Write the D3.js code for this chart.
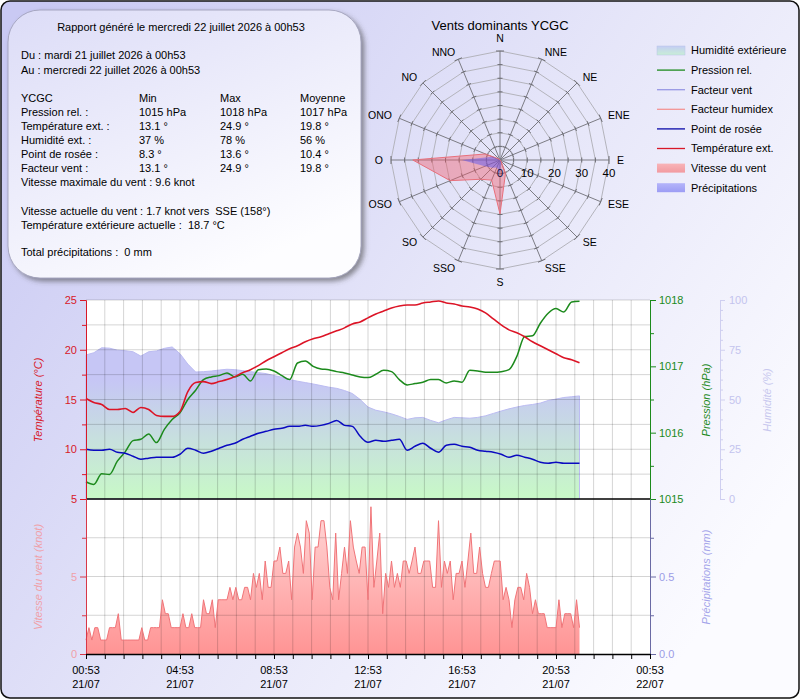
<!DOCTYPE html>
<html>
<head>
<meta charset="utf-8">
<script src="https://cdn.jsdelivr.net/npm/d3@7"></script>
<style>
  body { margin: 0; background: #fff; }
  svg { display: block; font-family: "Liberation Sans", Arial, sans-serif; }
  text { white-space: pre; }
</style>
</head>
<body>
<svg id="chart" width="800" height="700"></svg>
<script>
// ---- data ----
const t0 = new Date(2026, 6, 21, 0, 53)
const t1 = new Date(2026, 6, 22, 0, 53)
const stepMin = 20      // temp / dew / pressure / humidity
const windStepMin = 7.5 // wind speed

const tempC = [15.1,14.7,14.5,14.0,14.0,14.1,13.7,14.2,14.0,13.4,13.3,13.3,13.8,15.8,16.7,16.8,
  16.6,16.8,17.0,17.3,17.7,18.0,18.4,18.9,19.3,19.7,20.1,20.4,20.8,21.1,21.3,21.6,
  21.9,22.2,22.6,22.8,23.2,23.6,23.9,24.2,24.4,24.5,24.5,24.7,24.8,24.9,24.7,24.6,
  24.4,24.3,24.1,23.7,23.1,22.5,22.0,21.7,21.3,20.8,20.4,20.0,19.6,19.2,19.0,18.7]

const dewPoint = [10.0,9.9,9.9,10.0,9.7,9.6,9.3,9.0,9.1,9.2,9.2,9.2,9.5,10.1,9.9,9.6,
  9.8,10.1,10.4,10.6,11.0,11.3,11.6,11.8,12.0,12.1,12.3,12.3,12.4,12.3,12.4,12.6,
  12.9,12.4,12.3,11.3,10.7,10.9,10.8,10.9,11.0,9.9,10.3,10.6,10.1,9.7,10.4,10.5,
  10.3,10.2,9.9,9.8,9.7,9.5,9.2,9.4,9.2,9.0,8.7,8.6,8.7,8.6,8.6,8.6]

const pressure = [1015.26,1015.22,1015.38,1015.37,1015.57,1015.71,1015.88,1015.90,1015.98,1015.85,1016.05,1016.20,1016.30,1016.50,1016.64,1016.80,
  1016.84,1016.86,1016.90,1016.84,1016.88,1016.78,1016.95,1016.96,1016.93,1016.86,1016.80,1017.05,1017.08,1017.00,1016.96,1016.95,
  1016.92,1016.90,1016.87,1016.84,1016.83,1016.88,1016.94,1016.92,1016.80,1016.72,1016.74,1016.76,1016.80,1016.80,1016.75,1016.78,
  1016.76,1016.94,1016.93,1016.91,1016.91,1016.92,1016.95,1017.15,1017.45,1017.46,1017.65,1017.80,1017.87,1017.82,1017.97,1017.98]

const humidity = [72.4,73.5,76.0,75.8,74.8,74.5,74.0,71.8,74.0,74.4,75.7,76.4,73.0,67.8,63.8,64.0,
  64.3,64.8,65.2,65.0,64.5,64.0,63.5,63.0,62.0,61.2,60.0,59.2,58.5,57.8,57.0,56.2,
  55.6,54.5,53.0,50.0,46.2,44.6,43.8,42.8,41.5,40.0,40.8,41.0,39.5,38.3,39.8,41.0,
  40.8,40.6,41.0,41.8,43.0,44.2,45.3,46.2,47.0,47.5,48.2,49.5,50.2,51.0,51.4,51.8]

const windKnot = [0.9,1.7,0.9,1.7,1.7,0.9,0.9,0.9,1.7,1.7,1.7,2.6,0.9,0.9,0.9,0.9,
  0.9,0.9,0.9,1.7,0.9,0.9,1.7,1.7,1.7,1.7,3.5,2.6,2.6,1.7,1.7,1.7,
  1.7,2.6,1.7,1.7,2.6,1.7,1.7,1.7,3.5,2.6,2.6,3.5,1.7,3.5,3.5,3.5,
  3.5,4.3,3.5,4.3,3.5,3.5,4.3,4.3,3.5,5.2,4.3,5.2,3.5,6.0,4.3,4.3,
  6.0,6.0,6.9,5.2,5.2,6.0,3.5,6.9,7.8,6.9,5.2,8.6,7.8,3.5,6.9,6.9,
  8.6,8.6,6.9,4.3,3.5,7.8,3.5,5.2,6.9,5.2,8.6,6.9,6.0,5.2,6.9,6.9,
  3.5,9.5,4.3,6.0,7.8,2.6,5.2,4.3,6.0,4.3,5.2,4.3,6.0,6.0,5.2,6.0,
  6.9,5.2,5.2,6.0,6.0,6.0,4.3,4.3,8.6,4.3,6.0,5.2,6.0,3.5,5.2,5.2,
  6.0,4.3,6.0,7.8,5.2,5.2,6.9,5.2,4.3,4.3,5.2,6.0,6.0,6.0,3.5,4.3,
  3.5,1.7,3.5,4.3,4.3,3.5,5.2,4.3,2.6,3.5,2.6,2.6,2.6,1.7,1.7,1.7,
  1.7,3.5,1.7,2.6,2.6,2.6,1.7,3.5,1.7]

const roseDirs = ['N','NNE','NE','ENE','E','ESE','SE','SSE','S','SSO','SO','OSO','O','ONO','NO','NNO']
const roseWind = [0,0,0,0,0,0,0.5,5.3,19.8,8,10,19.8,32,5.8,0.5,0]
const roseRain = [0,0,0,0,0,0,0,1,5,3,4,6,14,3,0,0]
const roseTicks = [0,10,20,30,40]

const legendNames = ['Humidité extérieure','Pression rel.','Facteur vent','Facteur humidex',
  'Point de rosée','Température ext.','Vitesse du vent','Précipitations']

const reportTitle = 'Rapport généré le mercredi 22 juillet 2026 à 00h53'
const periodLines = ['Du : mardi 21 juillet 2026 à 00h53', 'Au : mercredi 22 juillet 2026 à 00h53']
const statHeader = ['YCGC','Min','Max','Moyenne']
const statRows = [
  ['Pression rel. :','1015 hPa','1018 hPa','1017 hPa'],
  ['Température ext. :','13.1 °','24.9 °','19.8 °'],
  ['Humidité ext. :','37 %','78 %','56 %'],
  ['Point de rosée :','8.3 °','13.6 °','10.4 °'],
  ['Facteur vent :','13.1 °','24.9 °','19.8 °']
]
const maxWindLine = 'Vitesse maximale du vent : 9.6 knot'
const currentLines = ['Vitesse actuelle du vent : 1.7 knot vers  SSE (158°)', 'Température extérieure actuelle :  18.7 °C']
const rainLine = 'Total précipitations :  0 mm'

// ---- setup ----
const svg = d3.select('#chart')
const defs = svg.append('defs')

const grad = (id, x1, y1, x2, y2, stops, user) => {
  const g = defs.append('linearGradient').attr('id', id)
    .attr('x1', x1).attr('y1', y1).attr('x2', x2).attr('y2', y2)
  if (user) g.attr('gradientUnits', 'userSpaceOnUse')
  stops.forEach(s => g.append('stop').attr('offset', s[0]).attr('stop-color', s[1]))
}
grad('bgGrad', 0, 0.1, 1, 0.7, [[0, '#c9c9f3'], [0.55, '#e6e6f9'], [1, '#fbfbff']])
grad('boxGrad', 0, 0, 0.6, 1, [[0, '#dcdcf7'], [1, '#fdfdff']])
grad('humGrad', 0, 380, 0, 496, [[0, '#c6c6f5'], [1, '#c8f8c8']], true)
grad('windGrad', 0, 499, 0, 654, [[0, '#ffdcdc'], [1, '#ff9494']], true)
grad('humSw', 0, 0, 0, 1, [[0, '#c4cdf4'], [1, '#c8eed6']])
grad('windSw', 0, 0, 0, 1, [[0, '#f8b4b8'], [1, '#f29aa0']])
grad('rainSw', 0, 0, 0, 1, [[0, '#b4b4fa'], [1, '#9c9cf4']])

const shadow = defs.append('filter').attr('id', 'shadow')
  .attr('x', -0.1).attr('y', -0.1).attr('width', 1.2).attr('height', 1.2)
shadow.append('feDropShadow').attr('dx', 3).attr('dy', 3).attr('stdDeviation', 2.5)
  .attr('flood-color', '#404040').attr('flood-opacity', 0.55)

// background frame
svg.append('rect').attr('x', 1).attr('y', 1).attr('width', 798).attr('height', 697)
  .attr('rx', 9).attr('fill', 'url(#bgGrad)').attr('stroke', '#111').attr('stroke-width', 1.5)

// ---- info box ----
const info = svg.append('g')
info.append('rect').attr('x', 8).attr('y', 10).attr('width', 353).attr('height', 268)
  .attr('rx', 32).attr('fill', 'url(#boxGrad)').attr('stroke', '#9a9ab4').attr('stroke-width', 0.8)
  .attr('filter', 'url(#shadow)')

const infoText = (x, y, s, anchor) => info.append('text').attr('x', x).attr('y', y)
  .attr('font-size', 11).attr('fill', '#000').attr('text-anchor', anchor || 'start').text(s)
const colX = [21, 139, 220, 300]

infoText(181, 31, reportTitle, 'middle')
periodLines.forEach((s, i) => infoText(21, 59 + i * 15, s))
statHeader.forEach((s, j) => infoText(colX[j], 102, s))
statRows.forEach((row, i) => row.forEach((s, j) => infoText(colX[j], 116 + i * 14, s)))
infoText(21, 186, maxWindLine)
currentLines.forEach((s, i) => infoText(21, 215 + i * 14, s))
infoText(21, 256, rainLine)

// ---- wind rose ----
const cx = 500, cy = 160
const rScale = d3.scaleLinear().domain([0, 40]).range([0, 109])
const ang = i => i * Math.PI / 8
const rose = svg.append('g')

rose.append('text').attr('x', cx).attr('y', 30).attr('text-anchor', 'middle')
  .attr('font-size', 13).text('Vents dominants YCGC')

const ringLine = d3.lineRadial().angle((d, i) => ang(i)).radius(d => rScale(d)).curve(d3.curveLinearClosed)
d3.range(5, 41, 5).forEach(v => {
  rose.append('path').attr('transform', `translate(${cx},${cy})`)
    .attr('d', ringLine(roseDirs.map(() => v)))
    .attr('fill', 'none').attr('stroke', '#b4b4bc').attr('stroke-width', 1)
})
roseDirs.forEach((d, i) => {
  const a = ang(i), s = Math.sin(a), c = -Math.cos(a)
  rose.append('line').attr('x1', cx).attr('y1', cy)
    .attr('x2', cx + rScale(40) * s).attr('y2', cy + rScale(40) * c)
    .attr('stroke', '#7c7c84').attr('stroke-width', 1)
  d3.range(5, 41, 5).forEach(v => {
    const r = rScale(v), len = v === 40 ? 4 : 2.5
    rose.append('line')
      .attr('x1', cx + r * s - len * c).attr('y1', cy + r * c + len * s)
      .attr('x2', cx + r * s + len * c).attr('y2', cy + r * c - len * s)
      .attr('stroke', '#6c6c74').attr('stroke-width', 1)
  })
  const vertical = Math.abs(s) < 0.01
  const rl = vertical ? 122 : 117
  rose.append('text')
    .attr('x', cx + rl * s).attr('y', cy + rl * c).attr('dy', '0.35em')
    .attr('text-anchor', vertical ? 'middle' : (s > 0 ? 'start' : 'end'))
    .attr('font-size', 10.5).text(d)
})

const polyLine = d3.lineRadial().angle((d, i) => ang(i)).radius(d => rScale(d)).curve(d3.curveLinearClosed)
rose.append('path').attr('transform', `translate(${cx},${cy})`).attr('d', polyLine(roseWind))
  .attr('fill', 'rgba(240,90,105,0.42)').attr('stroke', '#e8707c').attr('stroke-width', 1)
rose.append('path').attr('transform', `translate(${cx},${cy})`).attr('d', polyLine(roseRain))
  .attr('fill', 'rgba(80,80,245,0.45)').attr('stroke', 'none')

roseTicks.forEach(v => {
  rose.append('text').attr('x', cx + rScale(v)).attr('y', cy + 17)
    .attr('text-anchor', 'middle').attr('font-size', 11.5)
    .attr('fill', v === 0 ? '#101040' : '#000').text(v)
})

// ---- legend ----
const legendKinds = ['humSw', '#1c8a1c', '#9898e4', '#f49494', '#0a0aa8', '#d81828', 'windSw', 'rainSw']
const legend = svg.append('g')
legendNames.forEach((name, i) => {
  const y = 50.5 + i * 19.6
  const k = legendKinds[i]
  if (k[0] === '#') {
    legend.append('line').attr('x1', 657).attr('x2', 685).attr('y1', y).attr('y2', y)
      .attr('stroke', k).attr('stroke-width', 1.3)
  } else {
    legend.append('rect').attr('x', 657).attr('y', y - 4.5).attr('width', 28).attr('height', 9)
      .attr('fill', `url(#${k})`).attr('stroke', k === 'humSw' ? '#b8c4e8' : 'none').attr('stroke-width', 0.5)
  }
  legend.append('text').attr('x', 691).attr('y', y).attr('dy', '0.35em')
    .attr('font-size', 11).text(name)
})

// ---- main chart ----
const L = 86, R = 650, TOP = 300, MID = 499, BOT = 654
const x = d3.scaleTime().domain([t0, t1]).range([L, R])
const yT = d3.scaleLinear().domain([5, 25]).range([MID, TOP])
const yP = d3.scaleLinear().domain([1015, 1018]).range([MID, TOP])
const yH = d3.scaleLinear().domain([0, 100]).range([MID, TOP])
const yW = d3.scaleLinear().domain([0, 10]).range([BOT, MID])
const yR = d3.scaleLinear().domain([0, 1]).range([BOT, MID])

const tAt = i => new Date(+t0 + i * stepMin * 60000)
const wAt = i => new Date(+t0 + i * windStepMin * 60000)
const gridTimes = d3.range(0, 31).map(k => new Date(+t0 + k * 48 * 60000))
const labelTimes = d3.range(0, 7).map(k => new Date(+t0 + k * 4 * 3600000))

const chart = svg.append('g')
chart.append('rect').attr('x', L).attr('y', TOP).attr('width', R - L).attr('height', BOT - TOP).attr('fill', '#fff')

// humidity area
chart.append('path').datum(humidity)
  .attr('d', d3.area().x((d, i) => x(tAt(i))).y0(MID).y1(d => yH(d)))
  .attr('fill', 'url(#humGrad)').attr('stroke', '#bcbcf2').attr('stroke-width', 1)

// wind area
chart.append('path').datum(windKnot)
  .attr('d', d3.area().x((d, i) => x(wAt(i))).y0(BOT).y1(d => yW(d)))
  .attr('fill', 'url(#windGrad)')

// grid
const grid = chart.append('g').attr('stroke', 'rgba(0,0,0,0.17)').attr('stroke-width', 1)
gridTimes.slice(1, -1).forEach(t => {
  grid.append('line').attr('x1', x(t)).attr('x2', x(t)).attr('y1', TOP).attr('y2', BOT)
})
d3.range(7.5, 25.1, 2.5).forEach(v => {
  grid.append('line').attr('x1', L).attr('x2', R).attr('y1', yT(v)).attr('y2', yT(v))
})
d3.range(2.5, 8, 2.5).forEach(v => {
  grid.append('line').attr('x1', L).attr('x2', R).attr('y1', yW(v)).attr('y2', yW(v))
})

// lines
chart.append('path').datum(windKnot)
  .attr('d', d3.line().x((d, i) => x(wAt(i))).y(d => yW(d)))
  .attr('fill', 'none').attr('stroke', '#f07478').attr('stroke-width', 1)
chart.append('path').datum(pressure)
  .attr('d', d3.line().x((d, i) => x(tAt(i))).y(d => yP(d)).curve(d3.curveMonotoneX))
  .attr('fill', 'none').attr('stroke', '#1c8a1c').attr('stroke-width', 1.5)
chart.append('path').datum(dewPoint)
  .attr('d', d3.line().x((d, i) => x(tAt(i))).y(d => yT(d)).curve(d3.curveMonotoneX))
  .attr('fill', 'none').attr('stroke', '#0a0ac0').attr('stroke-width', 1.5)
chart.append('path').datum(tempC)
  .attr('d', d3.line().x((d, i) => x(tAt(i))).y(d => yT(d)).curve(d3.curveMonotoneX))
  .attr('fill', 'none').attr('stroke', '#dc1426').attr('stroke-width', 1.6)

chart.append('line').attr('x1', L).attr('x2', R).attr('y1', MID).attr('y2', MID)
  .attr('stroke', '#000').attr('stroke-width', 1.3)

// axes
const styleAxis = (g, color, textColor) => {
  g.attr('font-family', null).attr('font-size', 11)
  g.select('.domain').attr('stroke', color)
  g.selectAll('.tick line').attr('stroke', color)
  g.selectAll('.tick text').attr('fill', textColor || color)
}
const addAxis = (axis, tx, ty, color, textColor) => {
  const g = chart.append('g').attr('transform', `translate(${tx},${ty})`).call(axis)
  styleAxis(g, color, textColor)
  return g
}

// temperature (left, upper)
addAxis(d3.axisLeft(yT).tickValues([5, 10, 15, 20, 25]).tickSize(6).tickSizeOuter(0).tickPadding(3), L, 0, '#d81828')
addAxis(d3.axisLeft(yT).tickValues([7.5, 12.5, 17.5, 22.5]).tickSize(4).tickSizeOuter(0).tickFormat(''), L, 0, '#d81828')
// wind (left, lower)
addAxis(d3.axisLeft(yW).tickValues([0, 5]).tickSize(6).tickSizeOuter(0).tickPadding(3), L, 0, '#d83848', '#f0a0a8')
addAxis(d3.axisLeft(yW).tickValues([2.5, 7.5]).tickSize(4).tickSizeOuter(0).tickFormat(''), L, 0, '#d83848')
// pressure (right, upper)
addAxis(d3.axisRight(yP).tickValues([1015, 1016, 1017, 1018]).tickSize(6).tickSizeOuter(0).tickPadding(3).tickFormat(d3.format('d')), R, 0, '#1c8a1c')
addAxis(d3.axisRight(yP).tickValues([1015.5, 1016.5, 1017.5]).tickSize(4).tickSizeOuter(0).tickFormat(''), R, 0, '#1c8a1c')
// precipitation (right, lower)
addAxis(d3.axisRight(yR).tickValues([0, 0.5]).tickSize(6).tickSizeOuter(0).tickPadding(3).tickFormat(d3.format('.1f')), R, 0, '#6a6aa4', '#9c9ce6')
addAxis(d3.axisRight(yR).tickValues([0.25, 0.75]).tickSize(4).tickSizeOuter(0).tickFormat(''), R, 0, '#6a6aa4')
// humidity (far right)
addAxis(d3.axisRight(yH).tickValues([0, 25, 50, 75, 100]).tickSize(5).tickSizeOuter(0).tickPadding(4), 720, 0, '#cfcff0', '#c4c4ee')
addAxis(d3.axisRight(yH).tickValues(d3.range(5, 100, 5).filter(v => v % 25)).tickSize(3).tickSizeOuter(0).tickFormat(''), 720, 0, '#cfcff0')

// time axis
const xg = addAxis(d3.axisBottom(x).tickValues(gridTimes).tickSize(5).tickSizeOuter(0).tickFormat(''), 0, BOT, '#000')
xg.select('.domain').attr('stroke-width', 1.3)
const fmtH = d3.timeFormat('%H:%M'), fmtD = d3.timeFormat('%d/%m')
labelTimes.forEach(t => {
  const tx = chart.append('text').attr('x', x(t)).attr('text-anchor', 'middle').attr('font-size', 11)
  tx.append('tspan').attr('x', x(t)).attr('y', 674).text(fmtH(t))
  tx.append('tspan').attr('x', x(t)).attr('y', 688).text(fmtD(t))
})

// axis titles
const vTitle = (tx, ty, s, color) => chart.append('text')
  .attr('transform', `translate(${tx},${ty}) rotate(-90)`).attr('text-anchor', 'middle')
  .attr('font-size', 11).attr('font-style', 'italic').attr('fill', color).text(s)
vTitle(42, 400, 'Température (°C)', '#d81828')
vTitle(42, 577, 'Vitesse du vent (knot)', '#f0a0a8')
vTitle(710, 400, 'Pression (hPa)', '#1c8a1c')
vTitle(710, 577, 'Précipitations (mm)', '#a4a4ea')
vTitle(771, 400, 'Humidité (%)', '#c8c8ee')
</script>
</body>
</html>
